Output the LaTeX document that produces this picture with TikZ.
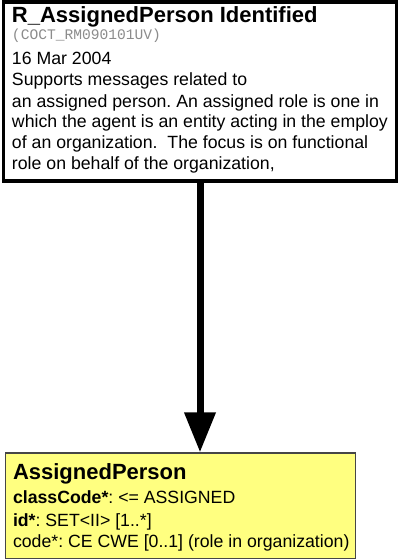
\documentclass[tikz,border=0pt]{standalone}
\usepackage{fontspec}
\setmainfont{Liberation Sans}
\setmonofont{Liberation Mono}
\usetikzlibrary{arrows.meta}
\frenchspacing
\definecolor{boxyellow}{RGB}{255,255,128}
\definecolor{codegray}{RGB}{140,140,140}
\definecolor{edgegray}{RGB}{70,70,70}
\tikzset{
  txt/.style={anchor=base west, inner sep=0pt, outer sep=0pt},
  body/.style={txt, font=\fontsize{17.7}{21}\selectfont},
  ttl/.style={txt, font=\fontsize{22}{24}\selectfont\bfseries},
  idcode/.style={txt, text=codegray, font=\fontsize{14.6}{15}\selectfont\ttfamily},
  outerbox/.style={draw=black, line width=3.5pt, fill=white, inner sep=0pt, minimum width=393pt, minimum height=179pt},
  classbox/.style={draw=edgegray, line width=1.3pt, fill=boxyellow, inner sep=0pt, minimum width=350pt, minimum height=106pt},
  bigarrow/.style={line width=7pt, -{Triangle[width=30pt,length=40pt]}}
}
\begin{document}
\begin{tikzpicture}[x=1pt,y=1pt]
\useasboundingbox (0,0) rectangle (400,-559);
\node[outerbox] (top) at (200,-91.5) {};
\node[classbox] (cls) at (180.5,-506) {};
\draw[bigarrow] (top.south) -- (top.south |- cls.north);
% top box texts
\node[ttl] (t1) at (12,-23) {R\_AssignedPerson Identified};
\node[idcode] (t2) at (12,-40) {(COCT\_RM090101UV)};
\node[body] (t3) at (12,-65) {16 Mar 2004};
\node[body] (t4) at (12,-86) {Supports messages related to};
\node[body] (t5) at (12,-107) {an assigned person. An assigned role is one in};
\node[body] (t6) at (12,-128) {which the agent is an entity acting in the employ};
\node[body] (t7) at (12,-148.5) {of an organization.\ \ The focus is on functional};
\node[body] (t8) at (12,-169) {role on behalf of the organization,};
% class box texts
\node[ttl] (c1) at (13,-479) {AssignedPerson};
\node[body] (c2) at (13,-503) {\textbf{classCode*}: <= ASSIGNED};
\node[body] (c3) at (13,-526) {\textbf{id*}: SET<II> [1..*]};
\node[body] (c4) at (13,-547) {code*: CE CWE [0..1] (role in organization)};
\end{tikzpicture}
\end{document}
